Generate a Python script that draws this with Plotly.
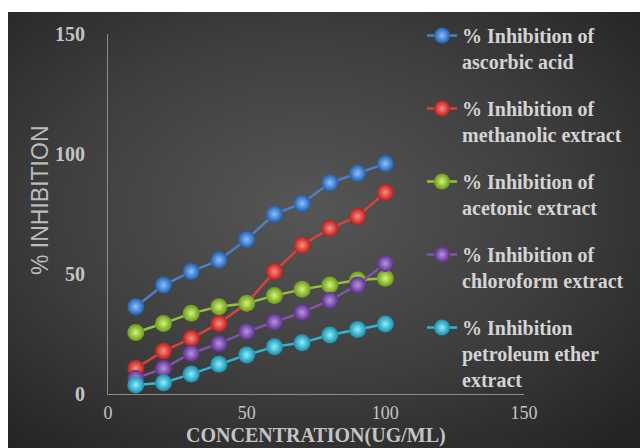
import base64
import plotly.graph_objects as go

concentration = [10, 20, 30, 40, 50, 60, 70, 80, 90, 100]
ascorbic = [36.4, 45.4, 51.0, 55.8, 64.4, 75.0, 79.4, 88.0, 92.0, 96.0]
methanolic = [10.7, 17.9, 23.2, 29.4, 37.8, 51.0, 62.0, 69.0, 74.0, 84.0]
acetonic = [25.6, 29.4, 33.6, 36.4, 37.8, 41.0, 43.6, 45.4, 47.5, 48.2]
chloroform = [6.5, 10.7, 17.0, 21.0, 26.0, 30.0, 34.0, 39.0, 45.4, 54.4]
petroleum = [3.8, 4.7, 8.3, 12.4, 16.3, 19.7, 21.4, 24.6, 26.9, 29.2]

series_names = [
    "% Inhibition of<br>ascorbic acid",
    "% Inhibition of<br>methanolic extract",
    "% Inhibition of<br>acetonic extract",
    "% Inhibition of<br>chloroform extract",
    "% Inhibition<br>petroleum ether<br>extract",
]
series_values = [ascorbic, methanolic, acetonic, chloroform, petroleum]
line_colors = ["#4a80c4", "#d6433a", "#96c23a", "#7d56a8", "#34b4cf"]
marker_colors = ["#1f5fae", "#b81e1a", "#6a9a18", "#5a3088", "#168fae"]
highlight_colors = ["#8ec0ff", "#ff8a80", "#d4f57a", "#b891e6", "#8ef0ff"]

fig = go.Figure()
for i, (name, vals) in enumerate(zip(series_names, series_values)):
    fig.add_trace(go.Scatter(
        x=concentration, y=vals, name=name, mode="lines+markers",
        legendgroup=f"g{i}",
        line=dict(color=line_colors[i], width=2.5),
        marker=dict(size=17, color=marker_colors[i],
                    gradient=dict(type="radial", color=highlight_colors[i]),
                    line=dict(width=0)),
    ))

svg = (
    '<svg xmlns="http://www.w3.org/2000/svg" width="632" height="436">'
    '<defs><radialGradient id="g" cx="0.47" cy="0.45" r="0.72">'
    '<stop offset="0" stop-color="#565656"/>'
    '<stop offset="0.55" stop-color="#3e3e3e"/>'
    '<stop offset="1" stop-color="#242424"/>'
    '</radialGradient></defs>'
    '<rect width="632" height="436" fill="url(#g)"/></svg>'
)
src = "data:image/svg+xml;base64," + base64.b64encode(svg.encode()).decode()

L, R, T, B = 108, 116, 34, 54
pw, ph = 640 - L - R, 448 - T - B

fig.update_layout(
    width=640, height=448,
    margin=dict(l=L, r=R, t=T, b=B, autoexpand=False),
    paper_bgcolor="white",
    plot_bgcolor="rgba(0,0,0,0)",
    showlegend=True,
    images=[dict(source=src, xref="paper", yref="paper",
                 x=(8 - L) / pw, y=(448 - B - 12) / ph,
                 sizex=632 / pw, sizey=436 / ph,
                 xanchor="left", yanchor="top", sizing="stretch",
                 layer="below")],
    legend=dict(
        x=(422 - L) / pw, y=1.05, xanchor="left", yanchor="top",
        bgcolor="rgba(0,0,0,0)",
        font=dict(family="Liberation Serif", size=20, color="#d4d4d4", weight="bold"),
        valign="top", tracegroupgap=18, itemwidth=30, maxheight=440,
    ),
    xaxis=dict(
        range=[0, 150], tickvals=[0, 50, 100, 150], showgrid=False, zeroline=False,
        showline=True, linecolor="#8c8c8c", linewidth=1, automargin=False,
        tickfont=dict(family="Liberation Serif", size=18, color="#c4c4c4"),
        ticklabelstandoff=2,
    ),
    yaxis=dict(
        range=[0, 150], tickvals=[0, 50, 100, 150], showgrid=False, zeroline=False,
        showline=True, linecolor="#8c8c8c", linewidth=1, automargin=False,
        tickfont=dict(family="Liberation Serif", size=20, color="#c4c4c4", weight="bold"),
        ticklabelstandoff=18,
    ),
    annotations=[
        dict(
            text="% INHIBITION", textangle=-90, xref="paper", yref="paper",
            x=(40 - L) / pw, y=(394 - 200) / ph, xanchor="center", yanchor="middle",
            showarrow=False,
            font=dict(family="Liberation Sans", size=23, color="#bcbcbc"),
        ),
        dict(
            text="CONCENTRATION(UG/ML)", xref="paper", yref="paper",
            x=0.5, y=(394 - 448) / ph, xanchor="center", yanchor="bottom",
            showarrow=False, borderpad=0,
            font=dict(family="Liberation Serif", size=20, color="#c4c4c4", weight="bold"),
        ),
    ],
)

fig.write_html("out.html")
